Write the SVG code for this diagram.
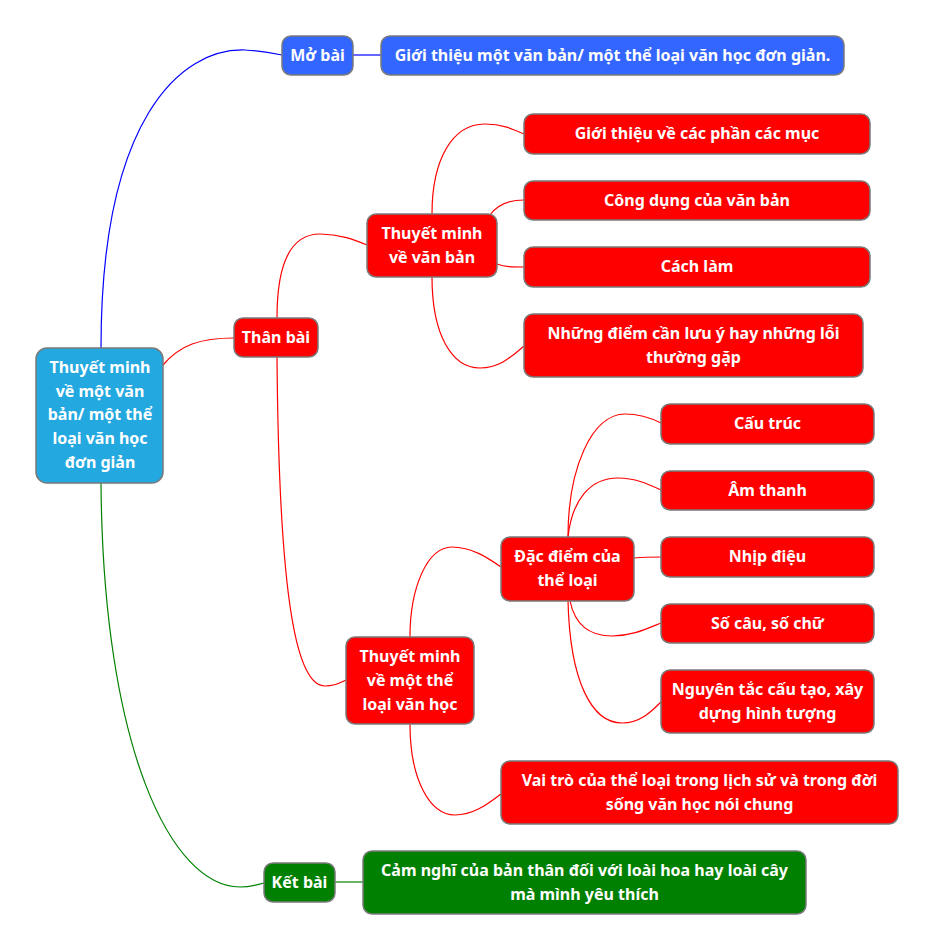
<svg xmlns="http://www.w3.org/2000/svg" width="936" height="952" viewBox="0 0 936 952">
<style>
.n rect{stroke:#7a7a7a;stroke-width:1.5}
.b rect{fill:#3366ff}
.r rect{fill:#ff0000}
.g rect{fill:#008000}
.root rect{fill:#23a8e0}
text{font-family:"Noto Sans","Open Sans","DejaVu Sans",sans-serif;font-weight:bold;font-size:16px;fill:#fff;text-anchor:middle}
.c path{fill:none;stroke-width:1.2}
</style>
<rect width="936" height="952" fill="#fff"/>
<g class="c">
<path stroke="#0000ff" d="M101,348 C101,120 180,48 245,50 C262,51 272,53 282,55"/>
<path stroke="#0000ff" d="M353,55 L381,55"/>
<path stroke="#ff0000" d="M163,365 C180,345 200,338 234,338"/>
<path stroke="#ff0000" d="M277,318 C277,262 292,234 320,234 C340,234 355,240 367,245"/>
<path stroke="#ff0000" d="M277,357 C279,610 298,686 325,686 C335,686 340,683 346,680"/>
<path stroke="#ff0000" d="M432,214 C432,160 452,124 485,124 C502,124 513,129 524,134"/>
<path stroke="#ff0000" d="M490,215 C497,205 508,200 524,200"/>
<path stroke="#ff0000" d="M497,264 C505,267 512,267 524,267"/>
<path stroke="#ff0000" d="M432,277 C432,335 452,368 480,368 C500,368 512,356 524,346"/>
<path stroke="#ff0000" d="M410,637 C410,588 427,547 452,547 C472,547 488,558 501,567"/>
<path stroke="#ff0000" d="M410,724 C410,780 430,815 455,815 C475,815 490,802 501,794"/>
<path stroke="#ff0000" d="M568,537 C568,468 592,414 625,414 C640,414 651,418 661,423"/>
<path stroke="#ff0000" d="M568,537 C572,500 590,478 618,478 C635,478 648,484 661,490"/>
<path stroke="#ff0000" d="M634,558 C645,557 652,557 661,557"/>
<path stroke="#ff0000" d="M570,601 C575,625 590,636 612,636 C632,636 646,629 661,623"/>
<path stroke="#ff0000" d="M568,601 C570,682 592,723 622,723 C640,723 651,712 661,702"/>
<path stroke="#008000" d="M101,483 C103,750 172,887 240,887 C250,887 257,885 264,883"/>
<path stroke="#008000" d="M335,882 L363,882"/>
</g>
<g id="root" class="n root"><rect x="36" y="348" width="127" height="135" rx="11"/>
<text x="100" y="373">Thuyết minh</text><text x="100" y="397">về một văn</text><text x="100" y="420">bản/ một thể</text><text x="100" y="444">loại văn học</text><text x="100" y="468">đơn giản</text></g>
<g id="mobai" class="n b"><rect x="282" y="36" width="71" height="39" rx="9"/><text x="317.5" y="61">Mở bài</text></g>
<g id="gioithieu" class="n b"><rect x="381" y="36" width="463" height="39" rx="9"/><text x="612.5" y="61">Giới thiệu một văn bản/ một thể loại văn học đơn giản.</text></g>
<g id="thanbai" class="n r"><rect x="234" y="318" width="84" height="39" rx="9"/><text x="276" y="343">Thân bài</text></g>
<g id="tmvanban" class="n r"><rect x="367" y="214" width="130" height="63" rx="9"/><text x="432" y="239">Thuyết minh</text><text x="432" y="263">về văn bản</text></g>
<g id="cacphan" class="n r"><rect x="524" y="114" width="346" height="40" rx="9"/><text x="697" y="139">Giới thiệu về các phần các mục</text></g>
<g id="congdung" class="n r"><rect x="524" y="181" width="346" height="39" rx="9"/><text x="697" y="206">Công dụng của văn bản</text></g>
<g id="cachlam" class="n r"><rect x="524" y="247" width="346" height="40" rx="9"/><text x="697" y="272">Cách làm</text></g>
<g id="luuy" class="n r"><rect x="524" y="314" width="339" height="63" rx="9"/><text x="693.5" y="339">Những điểm cần lưu ý hay những lỗi</text><text x="693.5" y="363">thường gặp</text></g>
<g id="tmtheloai" class="n r"><rect x="346" y="637" width="128" height="87" rx="9"/><text x="410" y="662">Thuyết minh</text><text x="410" y="686">về một thể</text><text x="410" y="710">loại văn học</text></g>
<g id="dacdiem" class="n r"><rect x="501" y="537" width="133" height="64" rx="9"/><text x="567.5" y="562">Đặc điểm của</text><text x="567.5" y="586">thể loại</text></g>
<g id="cautruc" class="n r"><rect x="661" y="404" width="213" height="40" rx="9"/><text x="767.5" y="429">Cấu trúc</text></g>
<g id="amthanh" class="n r"><rect x="661" y="471" width="213" height="39" rx="9"/><text x="767.5" y="496">Âm thanh</text></g>
<g id="nhipdieu" class="n r"><rect x="661" y="537" width="213" height="40" rx="9"/><text x="767.5" y="562">Nhịp điệu</text></g>
<g id="socau" class="n r"><rect x="661" y="604" width="213" height="39" rx="9"/><text x="767.5" y="629">Số câu, số chữ</text></g>
<g id="nguyentac" class="n r"><rect x="661" y="670" width="213" height="63" rx="9"/><text x="767.5" y="695">Nguyên tắc cấu tạo, xây</text><text x="767.5" y="719">dựng hình tượng</text></g>
<g id="vaitro" class="n r"><rect x="501" y="761" width="397" height="63" rx="9"/><text x="699.5" y="786">Vai trò của thể loại trong lịch sử và trong đời</text><text x="699.5" y="810">sống văn học nói chung</text></g>
<g id="ketbai" class="n g"><rect x="264" y="863" width="71" height="39" rx="9"/><text x="299.5" y="888">Kết bài</text></g>
<g id="camnghi" class="n g"><rect x="363" y="851" width="443" height="63" rx="9"/><text x="584.5" y="876">Cảm nghĩ của bản thân đối với loài hoa hay loài cây</text><text x="584.5" y="900">mà mình yêu thích</text></g>
</svg>
